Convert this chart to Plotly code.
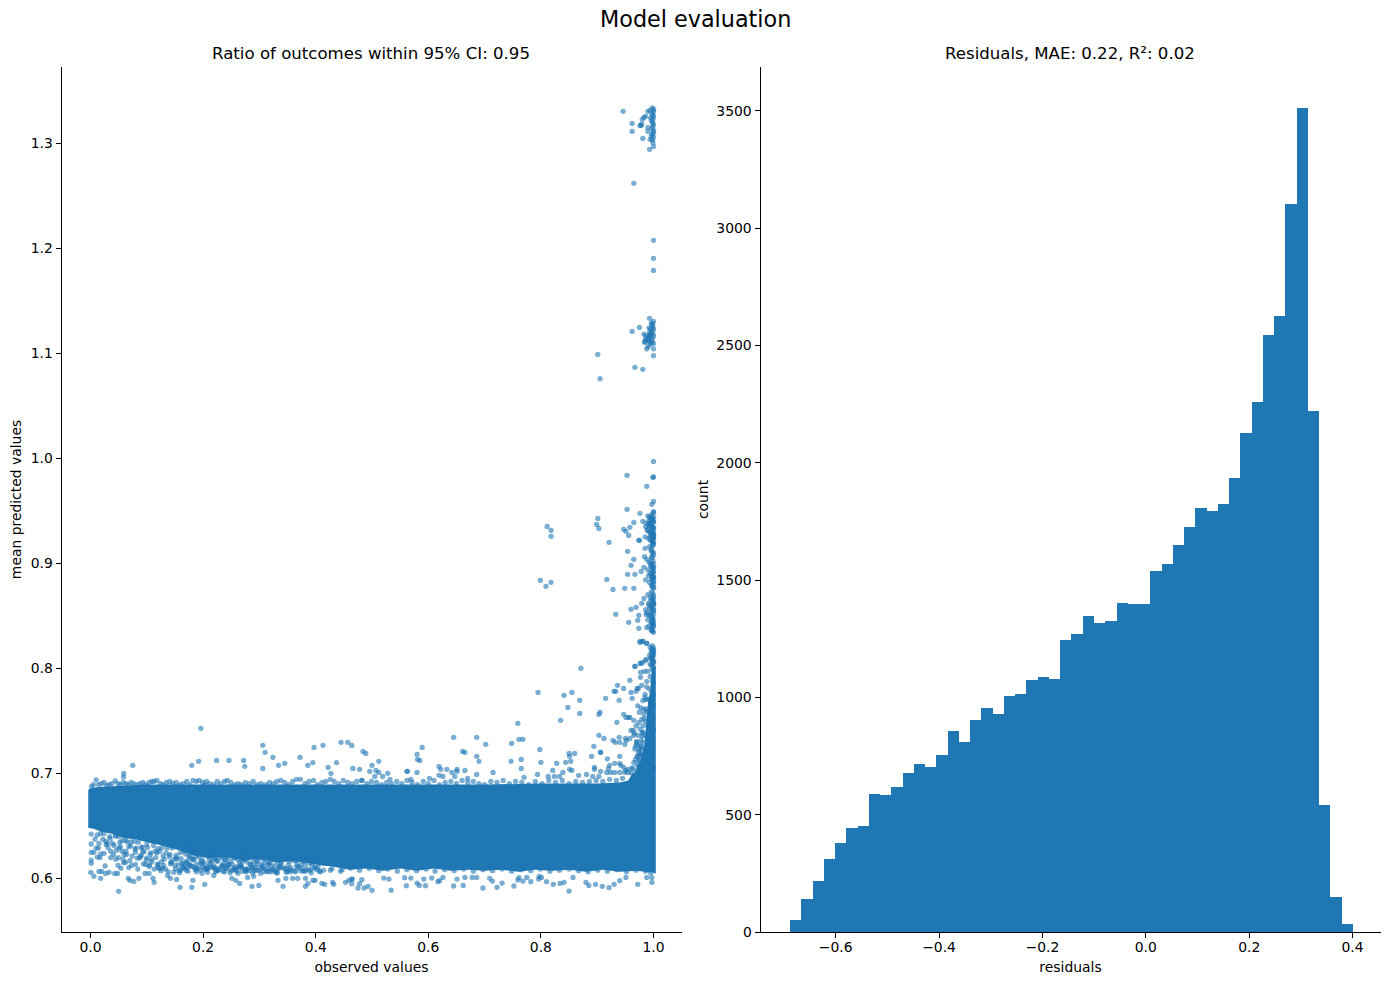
import plotly.graph_objects as go

W, H = 1389, 985
BLUE = "#1f77b4"

# ---------- right panel: histogram (50 bins) ----------
bin_start = -0.6892
bin_width = 0.02178
counts = [51, 141, 217, 311, 379, 443, 452, 588, 584, 618,
          678, 716, 703, 754, 857, 810, 904, 955, 929, 1006,
          1014, 1074, 1087, 1078, 1245, 1270, 1347, 1317, 1326, 1402,
          1398, 1398, 1539, 1569, 1650, 1726, 1807, 1795, 1824, 1935,
          2127, 2259, 2545, 2626, 3103, 3512, 2221, 541, 149, 34]

# ---------- left panel: solid core of the point cloud (outline) ----------
band_top_x = [-.004, .003, .02, .05, .1, .15, .2, .3, .4, .5, .6, .7, .8, .9, .94, .955, .962, .968, .972, .978, .984, .987, .991, .994, .997, 1.004]
band_top_y = [.684, .686, .687, .688, .689, .689, .689, .689, .689, .689, .689, .689, .690, .690, .691, .693, .699, .701, .708, .712, .728, .745, .772, .776, .80, .802]
band_bot_x = [1.004, 1.0, .97, .94, .91, .88, .85, .82, .79, .76, .73, .70, .67, .64, .61, .58, .55, .52, .49, .46, .43, .41, .39, .36, .33, .30, .27, .24, .21, .18, .16, .14, .12, .10, .08, .06, .04, .02, .005, -.004]
band_bot_y = [.604, .605, .607, .606, .608, .606, .608, .607, .608, .606, .608, .607, .608, .607, .609, .607, .609, .607, .609, .608, .611, .612, .614, .616, .615, .618, .617, .620, .619, .622, .626, .629, .632, .634, .637, .638, .642, .644, .647, .648]

# ---------- left panel: single points above the core ----------
high_x = [.196, .306, .310, .324, .180, .192, .224, .246, .272, .274, .306, .334, .345, .372, .386, .395, .397, .413, .445, .457,
          .422, .427, .437, .075, .059, .0588, .203,
          .464, .484, .489, .512, .500, .466, .478, .507, .496, .512, .528, .505, .519, .532, .482,
          .580, .589, .581, .585, .645, .686, .702, .661, .665, .686, .690, .619, .622, .633, .651, .665, .651, .642,
          .562, .563, .580, .715, .686, .619, .626, .647, .670, .569, .602,
          .759, .748, .761, .768, .798, .747, .765, .800, .765, .794, .770,
          .795, .841, .855, .869, .848, .869, .835, .871,
          .828, .844, .850, .860, .851, .853, .821, .839, .851, .855, .813, .824, .833, .867, .881, .892, .903, .906, .895, .890, .906, .894, .903, .912,
          .903, .905, .915, .936, .930, .933, .947, .958, .939, .935, .967, .976, .981, .986, .976, .981, .988,
          .977, .984, .977, .988, .979, .973, .971, .969, .962, .960, .947, .951, .958, .965, .956,
          .939, .950, .952, .928, .932, .940, .949, .958, .965, .960, .964, .971, .978, .973, .968, .970, .975, .979, .978, .981, .971, .976, .983,
          .940, .906, .918, .940, .931, .922, .920, .895, .942, .947, .951, .955, .949, .940, .931, .924, .917, .955,
          .972, .975, .969, .966, .978, .981, .974, .970, .967, .983, .979, .986, .976, .972, .962, .985, .980, .977, .973, .968, .982, .975, .971, .984, .965, .978, .963, .961, .970, .974, .981, .987]
high_y = [.7426, .7264, .7197, .715, .7073, .7111, .712, .712, .712, .7064, .7044, .7073, .7092, .715, .7073, .71, .7244, .7264, .7292, .7292,
          .7054, .6997, .71, .7073, .6997, .6962, .6892,
          .7263, .7206, .7187, .7111, .7073, .7044, .7035, .7025, .7016, .7006, .6997, .6968, .6968, .694, .693,
          .7178, .7244, .713, .712, .734, .734, .7273, .7206, .7197, .7159, .7111, .7063, .7035, .7035, .7035, .7025, .7016, .7006,
          .7016, .7016, .7006, .7006, .6987, .6978, .6968, .6968, .6949, .694, .695,
          .7473, .7283, .7321, .7321, .7225, .7111, .713, .7102, .7044, .6987, .6959,
          .7768, .774, .7768, .7692, .7625, .7568, .7502, .7997,
          .7092, .7102, .7187, .7187, .7159, .7111, .7025, .7006, .7035, .7025, .6968, .6968, .6968, .6978, .6987, .6968, .6968, .7016, .7054, .7159, .7197, .7254, .7359, .733,
          .7559, .7578, .7711, .7835, .7778, .7778, .7806, .7883, .7692, .7483, .8016, .8044, .8054, .8073, .8254, .8254, .8235,
          .7959, .7968, .7911, .7873, .7835, .7806, .7806, .7778, .7711, .7768, .7559, .7530, .7530, .7502, .7530,
          .7340, .7330, .7311, .7311, .7292, .7292, .7273, .7330, .7359, .7406, .7406, .7273, .7311, .7359, .7254, .7292, .7225, .7178, .7225, .7292, .7159, .7178, .7130,
          .7159, .7197, .7135, .7092, .7092, .7073, .7044, .7035, .7073, .7054, .7025, .7006, .7006, .7006, .7006, .7006, .7006, .7035,
          .7640, .7580, .7450, .7380, .7620, .7690, .7480, .7300, .7230, .7560, .7510, .7700, .7420, .7160, .7050, .7750, .7350, .7260, .7200, .7130, .7450, .7120, .7080, .7520, .7100, .7170, .7040, .7000, .7020, .7060, .7390, .7610]

# ---------- left panel: fuzz just above the core, all along the band ----------
top_fuzz_x = [.002, .005, .010, .014, .019, .024, .029, .033, .038, .044, .049, .053, .058, .063, .067, .072, .077, .083, .088, .093, .098, .104, .109, .113, .118, .124, .129, .135, .141, .146, .152, .159, .165, .171, .177, .182, .188, .193, .199, .206, .212, .219, .225, .231, .238, .243, .249, .256, .262, .268, .275, .282, .289, .296, .303, .311, .318, .325, .331, .338, .345, .352, .359, .366, .373, .381, .388, .396, .403, .411, .418, .426, .433, .441, .449, .457, .465, .473, .482, .491, .499, .508, .517, .526, .535, .544, .553, .562, .571, .581, .591, .600, .610, .620, .630, .640, .650, .660, .670, .680, .690, .700, .711, .722, .733, .744, .755, .766, .778, .790, .802, .814, .826, .838, .850, .862, .874, .886, .898, .910, .922, .934, .945]
top_fuzz_y = [.687, .689, .6935, .689, .690, .691, .688, .689, .690, .6925, .690, .689, .691, .690, .689, .691, .690, .689, .690, .691, .689, .691, .692, .692, .693, .690, .689, .691, .692, .690, .691, .689, .690, .692, .689, .693, .692, .693, .691, .692, .690, .689, .692, .690, .692, .693, .691, .689, .690, .689, .691, .690, .692, .689, .690, .689, .691, .690, .692, .693, .691, .689, .692, .694, .694, .690, .692, .693, .689, .691, .692, .694, .692, .690, .693, .691, .690, .692, .693, .690, .692, .691, .689, .691, .690, .692, .690, .693, .691, .689, .692, .690, .693, .689, .691, .692, .690, .693, .691, .692, .690, .689, .692, .691, .693, .690, .692, .691, .689, .692, .690, .693, .691, .693, .690, .692, .691, .692, .693, .692, .694, .693, .695]

# ---------- left panel: column of points close to 1.0 ----------
spike_x = [.946, .962, .962, .978, .981, .993, 1.0, .994, .999, .965, 1.0, 1.0, 1.0, .993, .975, .962, .901, .905, .967, .981, 1.0,
           .990, .994, .983, .986, .980, .976, .979, .990, .990, .995, .998, 1.0, .997, .999, 1.0, .996, .998, 1.0, .999, .997, 1.0, 1.0, .998, .996, 1.0, .999, 1.0, .998,
           .986, .984, .990, .992, .994, .996, .998, 1.0, .999, 1.0, .997, .995, .993, .991, .988, .985, .983, .986, .990, .994, .997, 1.0, .998, .996, .993, .999, 1.0, .992, .995, .998, 1.0, .988,
           1.0, .953, .999, 1.0, .988, .997, 1.0, .953, .976, 1.0, .901, .899, .903, .811, .818, .818, .965, .958, .947, .951, .956, .981, .921, .974, .975,
           .954, .965, .960, .985, .917, .928, .949, .954, .967, .965, .978, .983, .799, .809, .818, .933, .960, .969, .974, .979, .983, .956, .972, .974, .987,
           .976, .981, .988, .967, .978, .987,
           .990, .993, .996, .999, 1.0, .987, .992, .995, .998, 1.0, .989, .993, .997, 1.0, .985, .991, .994, .998, 1.0, .992, .996, .999, .986, .990, .994, .998, 1.0, .997, .999, .994, .991, .996, 1.0, .993,
           .984, .988, .992, .996, 1.0, .990, .994, .998, 1.0, .986, .993, .997, 1.0, .995, .999, .991, .996, 1.0,
           .990, .994, .998, 1.0, .992, .996, 1.0, .988, .994, .999, .990, .996, 1.0, .992, .997, 1.0, .986, .993, .998, 1.0, .991, .995, .999, .988, .996, 1.0, .993, .998,
           .994, .997, 1.0, .996, .999, .995, .998, 1.0, .993, .997, 1.0, .994, .998,
           .990, .994, .998, 1.0, .988, .993, .997, 1.0, .985, .991, .996, 1.0, .983, .989, .995, .999, .986, .992, .997, 1.0, .980, .984, .990, .995, .999, .978, .985, .992, .998, .982, .975, .988, .995, 1.0,
           1.0, .997, 1.0, .998, 1.0, .996, .999, 1.0, .997, 1.0, .998, .995, 1.0, .997, .999, 1.0, .996, .998, 1.0, .997, .999, 1.0, .995, .998, 1.0, .996, 1.0, .998, .999, 1.0, .997, 1.0, .996, .999, 1.0, .998, .995, 1.0, .997, 1.0,
           .999, 1.0, .997, .998, 1.0, .996, .999, 1.0, .997, 1.0, .998, 1.0, .996, .999, 1.0, .997, .998, 1.0, .999, .996, 1.0, .998, .997, 1.0, .999, 1.0, .996, .998, 1.0, .997]
spike_y = [1.3302, 1.3187, 1.3111, 1.3168, 1.3044, 1.294, 1.2968, 1.3035, 1.3006, 1.2616, 1.2073, 1.1902, 1.1787, 1.133, 1.1244, 1.1206, 1.0987, 1.0756, 1.0864, 1.0845, 1.0975,
           1.3302, 1.3311, 1.3244, 1.3254, 1.3225, 1.3168, 1.3178, 1.3149, 1.3111, 1.3240, 1.3335, 1.3320, 1.3280, 1.3265, 1.3250, 1.3215, 1.3195, 1.3180, 1.3160, 1.3140, 1.3120, 1.3100, 1.3085, 1.3070, 1.3055, 1.3225, 1.3300, 1.3030,
           1.1135, 1.1105, 1.1125, 1.1165, 1.1105, 1.1285, 1.1265, 1.1300, 1.1245, 1.1225, 1.1205, 1.1185, 1.1165, 1.1145, 1.1120, 1.1105, 1.1180, 1.1165, 1.1060, 1.1080, 1.1100, 1.1040, 1.1125, 1.1150, 1.1200, 1.1180, 1.1160, 1.1240, 1.1230, 1.1280, 1.1090, 1.1040,
           .9968, .9835, .9816, .9820, .973, .9559, .9587, .9511, .9473, .9489, .9425, .9368, .933, .9349, .9311, .9254, .9387, .934, .9321, .9302, .9263, .9397, .9197, .9216, .9216,
           .9111, .9035, .8978, .914, .8844, .8749, .8759, .8892, .8892, .8759, .892, .8959, .8835, .8778, .8816, .8511, .8559, .8578, .8502, .8616, .8663, .8435, .8454, .8378, .851,
           .8244, .8254, .8235, .8016, .8044, .8083,
           .9450, .9440, .9425, .9410, .9395, .9380, .9370, .9355, .9340, .9325, .9310, .9295, .9280, .9265, .9250, .9235, .9220, .9205, .9190, .9405, .9350, .9285, .9345, .9320, .9300, .9245, .9265, .9430, .9225, .9400, .9360, .9275, .9235, .9155,
           .9060, .9035, .9010, .8985, .8960, .8935, .8905, .8880, .8860, .8840, .8815, .8790, .8770, .9000, .8925, .8880, .8850, .8825,
           .8700, .8675, .8650, .8625, .8600, .8575, .8550, .8525, .8505, .8480, .8460, .8440, .8420, .8400, .8375, .8605, .8555, .8495, .8455, .8660, .8615, .8530, .8410, .8385, .8360, .8610, .8570, .8350,
           .8200, .8180, .8155, .8135, .8115, .8095, .8075, .8055, .8120, .8090, .8170, .8040, .8030,
           .7970, .7920, .7880, .7860, .7820, .7800, .7770, .7745, .7720, .7700, .7660, .7640, .7605, .7585, .7550, .7520, .7490, .7465, .7440, .7410, .7385, .7360, .7335, .7305, .7280, .7250, .7235, .7205, .7180, .7150, .7120, .7100, .7075, .7050,
           .9480, .9460, .9435, .9415, .9390, .9375, .9350, .9335, .9315, .9290, .9270, .9255, .9240, .9210, .9195, .9175, .9130, .9100, .9075, .9050, .9020, .8995, .8970, .8945, .8915, .8895, .8870, .8850, .8830, .8800, .8780, .8760, .8725, .8710, .8690, .8665, .8640, .8615, .8590, .8565,
           .8540, .8515, .8490, .8470, .8450, .8430, .8410, .8390, .8365, .8340, .8210, .8190, .8165, .8145, .8125, .8105, .8085, .8065, .8045, .8025, .8005, .7985, .8975, .8955, .8905, .8860, .9120, .9165, .9100, .9060]

# ---------- left panel: points under the core ----------
low_x = [.050, .0006, .006, .018, .015, .020, .027, .033, .043, .048, .054, .067, .070, .077, .086, .097, .104, .113, .111, .137, .142, .153, .159, .180, .182, .203, .219, .251, .258, .265, .287, .299, .279, .290, .333, .342, .347, .359, .368, .382, .382, .386, .395, .399, .411, .416, .430, .432, .453, .459, .465,
         .0012, .0012, .0012, .006, .0012, .0012, .015, .018, .012, .024, .030, .027, .012, .018, .024, .036, .045, .050, .062, .068, .074, .083, .089, .080, .059, .068, .053, .062, .045, .050,
         .095, .108, .120, .130, .120, .100, .090, .140, .150, .160, .145, .135, .165, .175, .170, .185, .195, .205, .190, .180, .170, .200, .215, .225, .235, .210, .220, .245, .255, .240, .265, .275, .260, .250, .285, .295, .270, .305, .315, .325, .335, .310, .330, .345, .355,
         .113, .125, .138, .148, .158, .170, .188, .198, .208, .222, .236, .248, .262, .276, .288, .302, .316, .332, .348, .364, .378, .392, .408, .426, .444,
         .464, .464, .475, .478, .482, .486, .493, .500, .521, .530, .534, .558, .561, .569, .580, .584, .592, .595, .606, .617, .620, .626, .645, .651, .662, .665, .678, .686, .697, .709, .714, .722, .731, .752, .759, .761, .768, .775, .782, .796, .797, .801, .810, .822, .834, .841, .850, .857, .880, .885, .897, .909, .921, .930, .940, .951, .972, .988, .997, .997,
         .022, .031, .039, .046, .056, .064, .071, .079, .085, .093, .100, .107, .116, .123, .131, .008, .014, .035, .042, .052, .060, .072, .081, .090, .099, .105, .118, .126, .134, .143, .152, .163, .172, .182, .191, .203, .213, .224, .233, .243, .256, .268, .279, .292,
         .104, .119, .128, .142, .151, .166, .177, .186, .199, .207, .218, .229, .241, .253, .264, .277, .286, .298, .309, .321, .336, .351, .367, .383, .398, .414, .429, .447, .462, .478, .495, .512, .528, .545, .562, .579, .596, .612, .629, .646, .663, .680, .697, .714, .731, .748, .765, .782, .799, .816, .833, .850, .867, .884, .901, .918, .935, .952, .969, .986, .995]
low_y = [.5873, .6054, .6016, .5997, .6063, .6063, .6044, .6054, .6044, .6044, .6092, .5997, .5978, .5968, .5997, .6044, .6044, .5959, .5997, .6025, .5997, .5987, .5911, .5911, .5978, .594, .6025, .5997, .5978, .5949, .5921, .593, .6006, .6016, .5978, .5921, .5997, .5997, .5997, .5997, .5921, .5949, .5978, .5978, .5949, .5940, .5959, .5940, .5959, .5978, .5990,
         .6419, .6324, .6245, .6245, .6171, .6140, .6330, .6425, .6410, .6425, .6330, .6350, .6200, .6230, .6235, .6195, .6180, .6195, .6150, .6100, .6210, .6190, .6205, .6130, .6145, .6300, .6300, .6360, .6410, .6395,
         .6250, .6180, .6100, .6120, .6280, .6320, .6290, .6205, .6120, .6075, .6285, .6330, .6255, .6200, .6150, .6100, .6150, .6090, .6240, .6290, .6320, .6220, .6150, .6095, .6110, .6260, .6200, .6120, .6080, .6175, .6150, .6180, .6240, .6280, .6125, .6160, .6065, .6100, .6130, .6085, .6110, .6180, .6050, .6095, .6060,
         .6085, .6070, .6060, .6055, .6050, .6075, .6060, .6045, .6055, .6060, .6065, .6050, .6045, .6060, .6050, .6045, .6060, .6050, .6055, .6060, .6065, .6050, .6060, .6075, .6065,
         .5990, .5946, .5905, .5946, .5984, .5905, .5921, .5883, .6000, .5990, .5884, .6003, .5927, .6000, .5952, .5930, .5990, .5927, .6000, .5965, .5975, .6006, .5924, .5990, .5930, .6006, .6006, .6006, .5905, .5997, .5971, .5911, .5952, .5924, .5981, .6003, .5971, .6006, .5965, .5990, .6016, .6006, .5965, .5940, .5949, .5959, .5876, .6006, .5959, .5930, .5940, .5921, .5908, .5940, .5975, .6006, .5940, .6006, .5959, .6006,
         .6370, .6290, .6330, .6265, .6255, .6225, .6305, .6275, .6340, .6255, .6190, .6240, .6195, .6255, .6180, .6370, .6285, .6375, .6310, .6340, .6225, .6345, .6285, .6215, .6170, .6125, .6240, .6155, .6240, .6155, .6195, .6135, .6105, .6175, .6095, .6130, .6100, .6165, .6115, .6135, .6100, .6115, .6090, .6105,
         .6110, .6130, .6095, .6135, .6085, .6110, .6125, .6080, .6105, .6085, .6100, .6080, .6095, .6075, .6100, .6080, .6095, .6075, .6090, .6080, .6095, .6080, .6100, .6080, .6095, .6075, .6090, .6080, .6095, .6075, .6090, .6070, .6085, .6065, .6080, .6070, .6085, .6065, .6080, .6070, .6085, .6065, .6080, .6070, .6085, .6065, .6080, .6070, .6085, .6065, .6075, .6085, .6070, .6060, .6075, .6065, .6080, .6060, .6075, .6065, .6050]

# ---------- left panel: mottled points in the lower part of the band ----------
mottled_x = [.152, .156, .161, .167, .171, .176, .181, .184, .189, .193, .197, .201, .206, .211, .214, .219, .223, .227, .232, .236, .241, .244, .249, .253, .258, .262, .266, .271, .275, .279, .283, .288, .292, .296, .301, .304, .309, .313, .318, .322, .326, .331, .335, .339, .344, .349, .353, .357, .362, .366, .371, .375, .379, .384, .388, .393, .397, .402, .406,
             .154, .159, .164, .169, .174, .179, .183, .188, .192, .198, .203, .208, .212, .217, .221, .226, .230, .235, .239, .243, .248, .252, .257, .261, .265, .270, .274, .278, .284, .287, .291, .297, .300, .306, .311, .315, .319, .324, .328, .333, .337, .342, .346, .351, .355, .360, .364, .369, .373, .378, .382, .386, .391, .395, .400, .404,
             .158, .163, .173, .178, .186, .195, .200, .209, .216, .224, .233, .238, .246, .255, .260, .268, .273, .282, .289, .294, .303, .308, .317, .321, .329, .338, .348, .356, .365, .374, .381, .390, .399, .407,
             .028, .036, .044, .051, .058, .065, .073, .080, .087, .094, .101, .109, .115, .122, .129, .136, .144, .010, .017, .026, .034, .041, .049, .056, .063, .070, .078, .084, .092, .098, .106, .112, .120, .127, .133, .141, .149]
mottled_y = [.6215, .6125, .6185, .6095, .6160, .6220, .6110, .6175, .6090, .6200, .6135, .6230, .6080, .6165, .6215, .6115, .6185, .6075, .6210, .6140, .6095, .6200, .6160, .6225, .6085, .6175, .6120, .6215, .6070, .6150, .6200, .6100, .6225, .6130, .6085, .6190, .6145, .6065, .6215, .6110, .6175, .6075, .6210, .6135, .6090, .6190, .6155, .6220, .6070, .6130, .6195, .6090, .6160, .6215, .6075, .6125, .6190, .6080, .6145,
             .6180, .6240, .6100, .6230, .6135, .6185, .6240, .6130, .6225, .6170, .6085, .6205, .6130, .6240, .6090, .6160, .6230, .6115, .6180, .6240, .6075, .6130, .6195, .6110, .6235, .6160, .6085, .6190, .6130, .6225, .6070, .6170, .6215, .6110, .6200, .6090, .6145, .6225, .6065, .6165, .6105, .6195, .6230, .6120, .6075, .6170, .6220, .6110, .6070, .6170, .6125, .6225, .6080, .6150, .6200, .6105,
             .6075, .6145, .6065, .6115, .6205, .6075, .6155, .6105, .6180, .6070, .6190, .6060, .6130, .6190, .6065, .6105, .6175, .6070, .6155, .6075, .6130, .6060, .6140, .6060, .6125, .6150, .6065, .6100, .6165, .6125, .6065, .6145, .6105, .6065,
             .6320, .6255, .6400, .6285, .6180, .6345, .6120, .6245, .6190, .6135, .6290, .6155, .6255, .6090, .6210, .6285, .6145, .6285, .6195, .6115, .6395, .6225, .6120, .6355, .6255, .6165, .6350, .6085, .6295, .6130, .6225, .6310, .6130, .6290, .6085, .6225, .6180]

fig = go.Figure()
fig.add_trace(go.Scatter(x=band_top_x + band_bot_x, y=band_top_y + band_bot_y, mode="lines",
                         line=dict(width=0, color=BLUE), fill="toself", fillcolor=BLUE,
                         hoverinfo="skip", showlegend=False, xaxis="x", yaxis="y"))
for xs, ys in [(high_x, high_y), (top_fuzz_x, top_fuzz_y), (spike_x, spike_y), (low_x, low_y), (mottled_x, mottled_y)]:
    fig.add_trace(go.Scatter(x=xs, y=ys, mode="markers", showlegend=False,
                             marker=dict(size=5.3, color=BLUE, opacity=0.6, line=dict(width=0)),
                             xaxis="x", yaxis="y"))

centers = [bin_start + (i + 0.5) * bin_width for i in range(len(counts))]
fig.add_trace(go.Bar(x=centers, y=counts, width=bin_width, marker=dict(color=BLUE, line=dict(width=0)),
                     showlegend=False, xaxis="x2", yaxis="y2"))

FONT = "DejaVu Sans"
common = dict(showgrid=False, zeroline=False, showline=True, linecolor="black", linewidth=1,
              ticks="outside", ticklen=5, tickwidth=1, tickcolor="black",
              tickfont=dict(family=FONT, size=13.9, color="black"), automargin=False)
ty = dict(family=FONT, size=13.9, color="black")

fig.update_layout(
    width=W, height=H, autosize=False, paper_bgcolor="white", plot_bgcolor="white",
    margin=dict(l=0, r=0, t=0, b=0), bargap=0,
    font=dict(family=FONT, color="black"),
    xaxis=dict(domain=[61.5 / W, 681.5 / W], range=[-0.0515, 1.0497], dtick=0.2, tick0=0, tickformat=".1f",
               ticklabelstandoff=-3,
               title=dict(text="observed values", font=ty, standoff=8), anchor="y", **common),
    yaxis=dict(domain=[53 / H, 918 / H], range=[0.5486, 1.3724], dtick=0.1, tick0=0, tickformat=".1f",
               title=dict(text="mean predicted values", font=ty, standoff=5), anchor="x", **common),
    xaxis2=dict(domain=[760.5 / W, 1380.5 / W], range=[-0.7453, 0.454], dtick=0.2, tick0=0, tickformat=".1f",
                ticklabelstandoff=-3,
                title=dict(text="residuals", font=ty, standoff=8), anchor="y2", **common),
    yaxis2=dict(domain=[53 / H, 918 / H], range=[0, 3687], dtick=500, tick0=0,
                title=dict(text="count", font=ty, standoff=4), anchor="x2", **common),
    annotations=[
        dict(text="Model evaluation", x=695 / W, y=1 - 19 / H, xref="paper", yref="paper", showarrow=False,
             font=dict(family=FONT, size=22.3, color="black"), xanchor="center", yanchor="middle"),
        dict(text="Ratio of outcomes within 95% CI: 0.95", x=371 / W, y=1 - 53 / H, xref="paper", yref="paper",
             showarrow=False, font=dict(family=FONT, size=16.6, color="black"), xanchor="center", yanchor="middle"),
        dict(text="Residuals, MAE: 0.22, R²: 0.02", x=1070 / W, y=1 - 53 / H, xref="paper", yref="paper",
             showarrow=False, font=dict(family=FONT, size=16.6, color="black"), xanchor="center", yanchor="middle"),
    ],
)

fig.write_html("out.html", config=dict(displayModeBar=False), post_script="document.body.style.margin='0';")
